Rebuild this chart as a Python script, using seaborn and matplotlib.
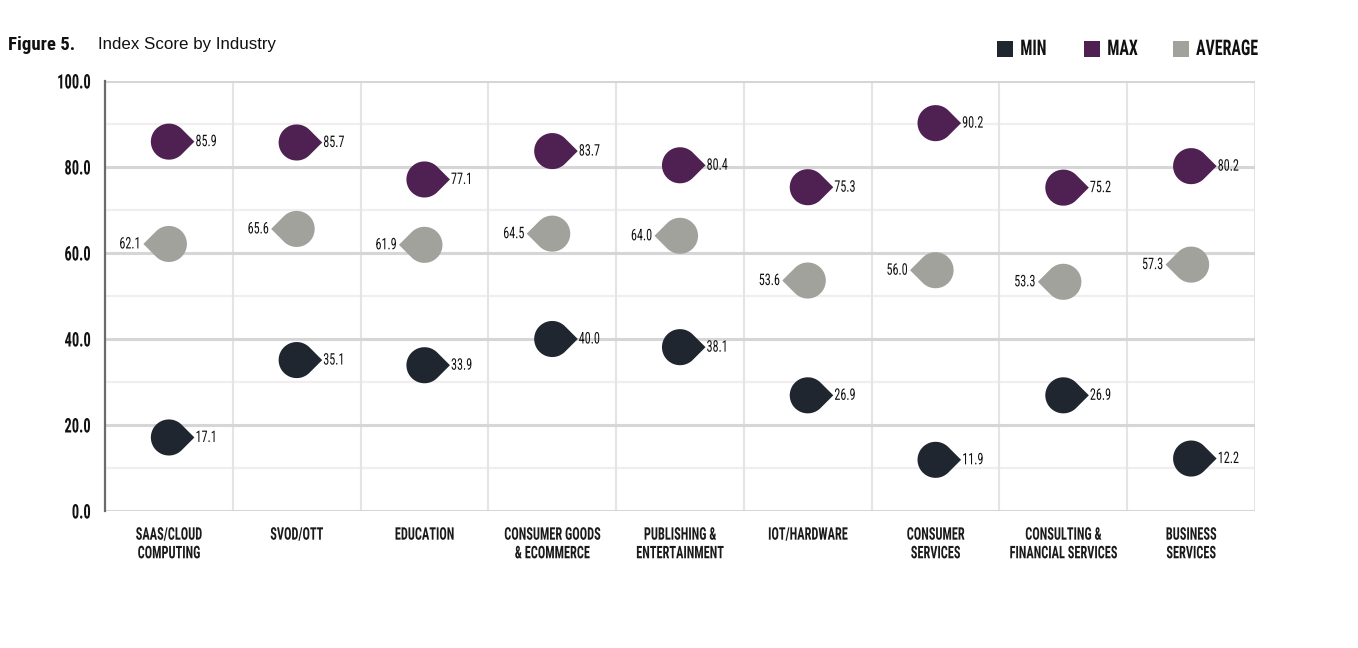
import numpy as np
import pandas as pd
import matplotlib
matplotlib.use("Agg")
import matplotlib.pyplot as plt
from matplotlib.path import Path
from matplotlib.patches import Rectangle
from matplotlib.patheffects import AbstractPathEffect
from matplotlib.transforms import Affine2D
from matplotlib import font_manager as fm
import seaborn as sns

# ---------------- data ----------------
categories = ["SAAS/CLOUD\nCOMPUTING", "SVOD/OTT", "EDUCATION", "CONSUMER GOODS\n& ECOMMERCE",
              "PUBLISHING &\nENTERTAINMENT", "IOT/HARDWARE", "CONSUMER\nSERVICES",
              "CONSULTING &\nFINANCIAL SERVICES", "BUSINESS\nSERVICES"]
min_vals = [17.1, 35.1, 33.9, 40.0, 38.1, 26.9, 11.9, 26.9, 12.2]
max_vals = [85.9, 85.7, 77.1, 83.7, 80.4, 75.3, 90.2, 75.2, 80.2]
avg_vals = [62.1, 65.6, 61.9, 64.5, 64.0, 53.6, 56.0, 53.3, 57.3]
y_ticks = [0, 20, 40, 60, 80, 100]
series_names = ["MIN", "MAX", "AVERAGE"]
series_colors = {"MIN": "#1f2630", "MAX": "#4f2052", "AVERAGE": "#a2a29d"}

# ---------------- fonts ----------------
ttf = fm.fontManager.ttflist
names = {f.name for f in ttf}
cond_family = None
cond_stretch = "normal"
for cand in ["Roboto Condensed", "Liberation Sans Narrow", "Open Sans Condensed", "Noto Sans Condensed"]:
    if cand in names:
        cond_family = cand
        break
if cond_family is None:
    if any("Condensed" in f.fname and f.name == "DejaVu Sans" for f in ttf):
        cond_family = "DejaVu Sans"
        cond_stretch = "condensed"
    else:
        cond_family = "DejaVu Sans"


def cfont(size, weight="bold"):
    return fm.FontProperties(family=cond_family, stretch=cond_stretch, weight=weight, size=size)


class Squeeze(AbstractPathEffect):
    """Horizontally compress drawn text about an anchor edge."""
    def __init__(self, fx=0.78, anchor="center"):
        super().__init__()
        self.fx = fx
        self.anchor = anchor

    def draw_path(self, renderer, gc, tpath, affine, rgbFace=None):
        verts = tpath.vertices
        if tpath.codes is not None:
            verts = verts[np.asarray(tpath.codes) != Path.CLOSEPOLY]
        if len(verts) == 0:
            renderer.draw_path(gc, tpath, affine, rgbFace)
            return
        tv = affine.transform(verts)
        x0, x1 = tv[:, 0].min(), tv[:, 0].max()
        ax_ = {"left": x0, "center": 0.5 * (x0 + x1), "right": x1}[self.anchor]
        t = affine + Affine2D().translate(-ax_, 0).scale(self.fx, 1).translate(ax_, 0)
        renderer.draw_path(gc, tpath, t, rgbFace)


# ---------------- markers ----------------
arc = Path.arc(45, 315)
r2 = np.sqrt(2.0)
verts_r = np.concatenate([arc.vertices, [[r2, 0.0], arc.vertices[0]]])
codes = list(arc.codes) + [Path.LINETO, Path.CLOSEPOLY]
drop_right = Path(verts_r, codes)
verts_l = verts_r.copy()
verts_l[:, 0] *= -1
drop_left = Path(verts_l, codes)
series_markers = {"MIN": drop_right, "MAX": drop_right, "AVERAGE": drop_left}

# ---------------- dataframe ----------------
rows = []
for i, c in enumerate(categories):
    for s, vals in zip(series_names, [min_vals, max_vals, avg_vals]):
        rows.append({"x": i, "category": c, "series": s, "value": vals[i]})
df = pd.DataFrame(rows)

# ---------------- figure ----------------
sns.set_style("white")
fig = plt.figure(figsize=(13.58, 6.48), dpi=100)
ax = fig.add_axes([105 / 1358, 1 - 511 / 648, 1150 / 1358, 430 / 648])

# grid
for v in np.arange(10, 100, 20):
    ax.axhline(v, color="#f2edef", lw=1.6, zorder=0)
for v in y_ticks:
    ax.axhline(v, color="#d6d6d6", lw=2.2, zorder=0.5)
for b in np.arange(0.5, len(categories), 1.0):
    ax.axvline(b, color="#e4e4e4", lw=1.5, zorder=0.4)

for s in series_names:
    sub = df[df["series"] == s]
    sns.scatterplot(data=sub, x="x", y="value", ax=ax, marker=series_markers[s],
                    color=series_colors[s], s=1350, edgecolor="none", linewidth=0,
                    legend=False, zorder=3)
    for _, row in sub.iterrows():
        if s == "AVERAGE":
            ax.annotate(f"{row['value']:.1f}", (row["x"], row["value"]), xytext=(-20, 0),
                        textcoords="offset points", ha="right", va="center",
                        fontproperties=cfont(11.5, "normal"), color="#111111", zorder=4,
                        path_effects=[Squeeze(0.76, "right")])
        else:
            ax.annotate(f"{row['value']:.1f}", (row["x"], row["value"]), xytext=(19, 0),
                        textcoords="offset points", ha="left", va="center",
                        fontproperties=cfont(11.5, "normal"), color="#111111", zorder=4,
                        path_effects=[Squeeze(0.76, "left")])

ax.set_xlim(-0.5, len(categories) - 0.5)
ax.set_ylim(0, 100)
ax.set_xlabel("")
ax.set_ylabel("")
ax.set_yticks(y_ticks)
ax.set_yticklabels([f"{v:.1f}" for v in y_ticks])
ax.set_xticks(range(len(categories)))
ax.set_xticklabels(categories, linespacing=1.3)
for lab in ax.get_yticklabels():
    lab.set_fontproperties(cfont(14.5, "bold"))
    lab.set_color("#111111")
    lab.set_path_effects([Squeeze(0.72, "right")])
for lab in ax.get_xticklabels():
    lab.set_fontproperties(cfont(12.5, "bold"))
    lab.set_color("#1a1a1a")
    lab.set_verticalalignment("top")
    lab.set_path_effects([Squeeze(0.71, "center")])
ax.tick_params(axis="x", length=0, pad=12)
ax.tick_params(axis="y", length=0, pad=10)

for side in ["top", "right", "bottom"]:
    ax.spines[side].set_visible(False)
ax.spines["left"].set_color("#6b6b6b")
ax.spines["left"].set_linewidth(1.6)
ax.spines["left"].set_zorder(5)

# title
fig.text(8 / 1358, 1 - 45 / 648, "Figure 5.", fontproperties=cfont(13.5, "bold"),
         color="#111111", va="center", ha="left")
fig.text(98 / 1358, 1 - 45 / 648, "Index Score by Industry",
         family="Liberation Sans", fontsize=12.2, color="#111111", va="center", ha="left")

# legend
leg_x = [997, 1084, 1173]
for s, lx in zip(series_names, leg_x):
    fig.add_artist(Rectangle((lx / 1358, 1 - 57 / 648), 16 / 1358, 16 / 648,
                             transform=fig.transFigure, color=series_colors[s], lw=0))
    fig.text((lx + 23) / 1358, 1 - 49 / 648, s, fontproperties=cfont(15.5, "bold"),
             color="#111111", va="center", ha="left",
             path_effects=[Squeeze(0.74, "left")])

fig.savefig("out.png", dpi=100)
